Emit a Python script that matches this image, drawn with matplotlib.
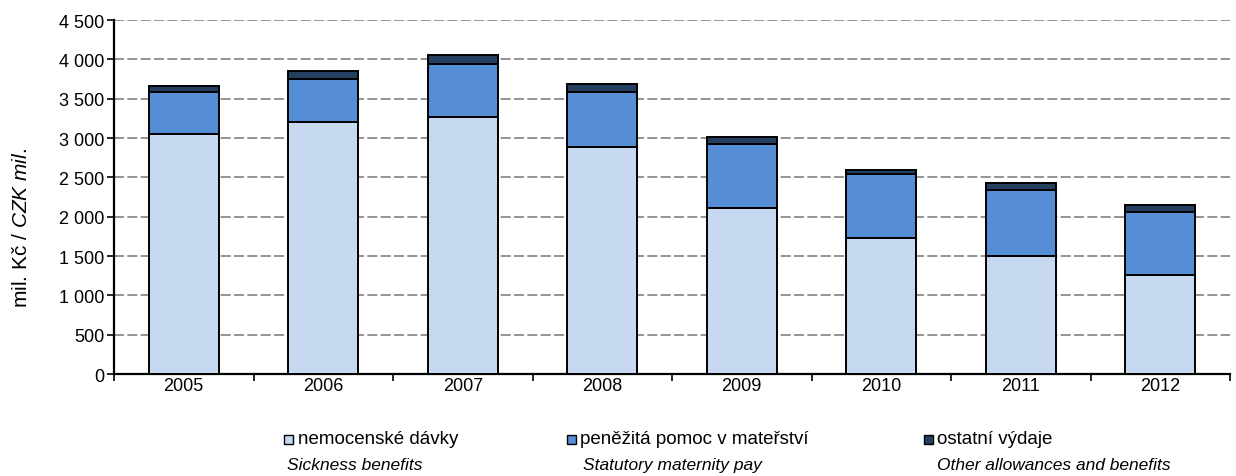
import numpy as np
import matplotlib
matplotlib.use("Agg")
import matplotlib.pyplot as plt
from matplotlib.patches import Rectangle
from matplotlib.ticker import FuncFormatter

plt.rcParams["font.family"] = ["Liberation Sans", "DejaVu Sans"]
plt.rcParams["mathtext.fontset"] = "custom"
plt.rcParams["mathtext.rm"] = "Liberation Sans"
plt.rcParams["mathtext.it"] = "Liberation Sans:italic"

YEARS = ["2005", "2006", "2007", "2008", "2009", "2010", "2011", "2012"]
SICKNESS = [3050, 3200, 3270, 2880, 2110, 1725, 1505, 1262]
MATERNITY = [532, 555, 673, 700, 817, 817, 838, 797]
OTHER = [76, 98, 107, 102, 82, 55, 89, 85]

SERIES_CZ = ["nemocenské dávky", "peněžitá pomoc v mateřství", "ostatní výdaje"]
SERIES_EN = ["Sickness benefits", "Statutory maternity pay", "Other allowances and benefits"]
COLORS = ["#C6D9F1", "#558ED5", "#243F60"]

W, H = 1236, 477
fig = plt.figure(figsize=(W / 100, H / 100), dpi=100)
ax = fig.add_axes([114 / W, 1 - 375 / H, 1116 / W, 354 / H])

x = np.arange(len(YEARS))
width = 0.5
bottom = np.zeros(len(YEARS))
for vals, color in zip([SICKNESS, MATERNITY, OTHER], COLORS):
    ax.bar(x, vals, width=width, bottom=bottom, color=color, edgecolor="black", linewidth=1.4, zorder=3)
    bottom += np.array(vals)

ax.set_xlim(-0.5, len(YEARS) - 0.5)
ax.set_ylim(0, 4500)
ax.set_yticks(np.arange(0, 4501, 500))
ax.yaxis.set_major_formatter(FuncFormatter(lambda v, p: f"{int(v):,}".replace(",", " ")))
ax.yaxis.grid(True, linestyle=(0, (6, 2)), color="#808080", linewidth=1.2, zorder=0)

# ticks between categories, labels centered
ax.set_xticks(np.arange(-0.5, len(YEARS), 1))
ax.set_xticklabels([])
ax.set_xticks(x, minor=True)
ax.set_xticklabels(YEARS, minor=True)
ax.tick_params(axis="x", which="minor", length=0, labelsize=13, pad=2)
ax.tick_params(axis="x", which="major", length=5, width=1.2, direction="out")
ax.tick_params(axis="y", length=5, width=1.2, direction="out", labelsize=13, pad=2)

for side in ["top", "right"]:
    ax.spines[side].set_visible(False)
for side in ["left", "bottom"]:
    ax.spines[side].set_linewidth(1.6)

fig.text(22 / W, 1 - 228 / H, r"mil. Kč / $\mathit{CZK\ mil.}$", fontsize=15,
         rotation=90, ha="center", va="center")

# legend drawn by hand below the axes
sq_x = [284, 567, 924]
cz_x = [298, 580, 937]
en_x = [287, 583, 937]
for i in range(3):
    fig.patches.append(Rectangle((sq_x[i] / W, 1 - 445 / H), 9 / W, 9 / H,
                                 transform=fig.transFigure, facecolor=COLORS[i],
                                 edgecolor="black", linewidth=1.0))
    fig.text(cz_x[i] / W, 1 - 440 / H, SERIES_CZ[i], fontsize=13.5, va="center", ha="left")
    fig.text(en_x[i] / W, 1 - 466 / H, SERIES_EN[i], fontsize=12.5, va="center", ha="left", style="italic")

fig.savefig("out.png", dpi=100)
